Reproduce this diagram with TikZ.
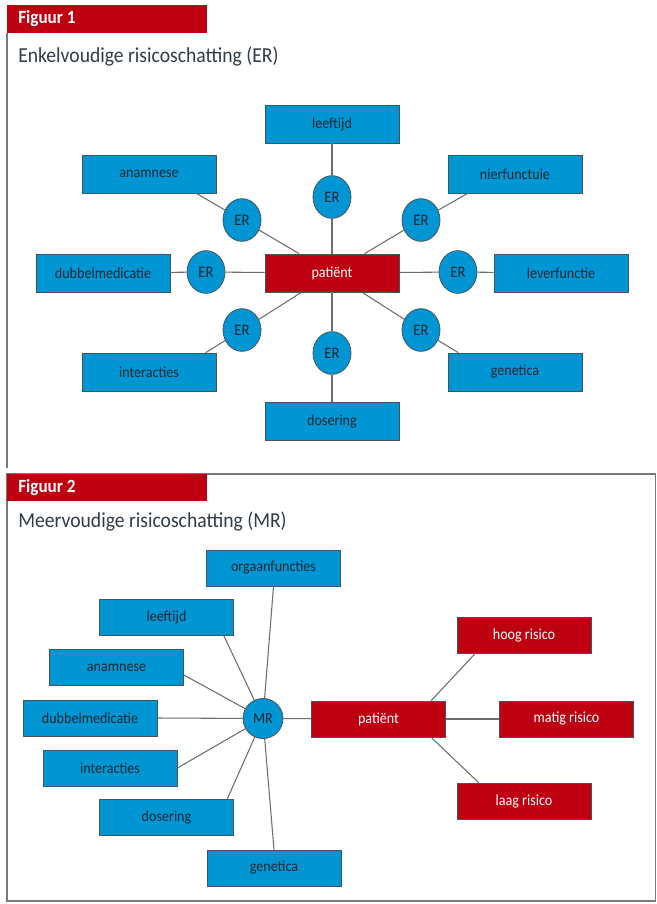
\documentclass[tikz,border=0pt]{standalone}
\usepackage{fontspec}
\setmainfont{Carlito}[FakeStretch=0.92]
\usetikzlibrary{shapes.geometric}
\definecolor{boxblue}{HTML}{0096D3}
\definecolor{boxred}{HTML}{BF0010}
\definecolor{txtdark}{HTML}{1A2633}
\definecolor{linegray}{HTML}{6E6E6E}
\definecolor{framegray}{HTML}{7A7A7A}
\begin{document}
\begin{tikzpicture}[x=0.75pt,y=-0.75pt,
  boxfont/.style={font=\fontsize{11.5}{13}\selectfont},
  bluebox/.style={draw=txtdark!80,line width=0.6pt,fill=boxblue,text=txtdark,
    minimum width=100.5pt,minimum height=28.5pt,inner sep=0pt,boxfont},
  bluebox2/.style={bluebox,minimum height=27pt},
  redbox/.style={draw=txtdark!80,line width=0.6pt,fill=boxred,text=white,
    minimum width=100.5pt,minimum height=28.5pt,inner sep=0pt,boxfont},
  redbox2/.style={redbox,minimum height=27pt},
  erbubble/.style={ellipse,draw=txtdark!80,line width=0.6pt,fill=boxblue,text=txtdark,
    minimum width=28.5pt,minimum height=32pt,inner sep=0pt,font=\fontsize{12}{14}\selectfont},
  mrbubble/.style={circle,draw=txtdark!80,line width=0.6pt,fill=boxblue,text=txtdark,
    minimum size=30pt,inner sep=0pt,font=\fontsize{11.5}{13}\selectfont},
  link/.style={draw=linegray,line width=0.8pt},
  headbar/.style={fill=boxred,draw=none},
  headtext/.style={anchor=west,text=white,inner sep=0pt,font=\fontsize{14}{16}\selectfont\bfseries},
  titletext/.style={anchor=west,text=txtdark!90,inner sep=0pt,font=\fontsize{16}{18}\selectfont}
]
\useasboundingbox[fill=white] (0,0) rectangle (657,904);

% ---------- Figuur 1 ----------
\draw[framegray,line width=1pt] (7,33) -- (7,468);
\fill[headbar] (7,5) rectangle (207,33);
\node[headtext] (h1) at (18,19) {Figuur 1};
\node[titletext] (t1) at (18,57) {Enkelvoudige risicoschatting (ER)};

\node[redbox] (pat) at (332,273) {patiënt};
\node[bluebox] (leeft) at (332,124) {leeftijd};
\node[bluebox] (anam) at (149,174) {anamnese};
\node[bluebox] (nier) at (515,174) {nierfunctuie};
\node[bluebox] (dubbel) at (103,273) {dubbelmedicatie};
\node[bluebox] (lever) at (561,273) {leverfunctie};
\node[bluebox] (inter) at (149,372) {interacties};
\node[bluebox] (gen) at (515,372) {genetica};
\node[bluebox] (dos) at (332,421) {dosering};

\node[erbubble] (ert) at (332,197) {ER};
\node[erbubble] (ertl) at (242,220) {ER};
\node[erbubble] (ertr) at (421,220) {ER};
\node[erbubble] (erl) at (206,272) {ER};
\node[erbubble] (err) at (458,272) {ER};
\node[erbubble] (erbl) at (242,330) {ER};
\node[erbubble] (erbr) at (421,330) {ER};
\node[erbubble] (erb) at (332,353) {ER};

\draw[link] (pat) -- (ert);   \draw[link] (ert) -- (leeft);
\draw[link] (pat) -- (ertl);  \draw[link] (ertl) -- ([xshift=-15pt]anam.south east);
\draw[link] (pat) -- (ertr);  \draw[link] (ertr) -- ([xshift=15pt]nier.south west);
\draw[link] (pat) -- (erl);   \draw[link] (erl) -- (dubbel);
\draw[link] (pat) -- (err);   \draw[link] (err) -- (lever);
\draw[link] (pat) -- (erbl);  \draw[link] (erbl) -- ([xshift=-8pt]inter.north east);
\draw[link] (pat) -- (erbr);  \draw[link] (erbr) -- ([xshift=8pt]gen.north west);
\draw[link] (pat) -- (erb);   \draw[link] (erb) -- (dos);

% ---------- Figuur 2 ----------
\draw[framegray,line width=1pt] (7,474) rectangle (655.5,901);
\fill[headbar] (7,474) rectangle (207,501);
\node[headtext] (h2) at (18,488) {Figuur 2};
\node[titletext] (t2) at (18,522) {Meervoudige risicoschatting (MR)};

\node[mrbubble] (mr) at (263,718.5) {MR};
\node[bluebox2] (org2) at (273.5,568) {orgaanfuncties};
\node[bluebox2] (leeft2) at (166.5,617.5) {leeftijd};
\node[bluebox2] (anam2) at (116.5,667.5) {anamnese};
\node[bluebox2] (dubbel2) at (90,718) {dubbelmedicatie};
\node[bluebox2] (inter2) at (110,768) {interacties};
\node[bluebox2] (dos2) at (166.5,817.5) {dosering};
\node[bluebox2] (gen2) at (274,868) {genetica};

\node[redbox2] (pat2) at (378.5,719) {patiënt};
\node[redbox2] (hoog) at (524,635) {hoog risico};
\node[redbox2] (matig) at (566.5,719) {matig risico};
\node[redbox2] (laag) at (524,801) {laag risico};

\draw[link] (mr) -- (org2.south);
\draw[link] (mr) -- ([xshift=-7.5pt]leeft2.south east);
\draw[link] (mr) -- ([yshift=-5.6pt]anam2.east);
\draw[link] (mr) -- (dubbel2.east);
\draw[link] (mr) -- (inter2.east);
\draw[link] (mr) -- ([xshift=-5pt]dos2.north east);
\draw[link] (mr) -- (gen2.north);
\draw[link] (mr) -- (pat2);
\draw[link] ([xshift=-11pt]pat2.north east) -- ([xshift=14pt]hoog.south west);
\draw[link] (pat2.east) -- (matig.west);
\draw[link] ([xshift=-11pt]pat2.south east) -- ([xshift=16.5pt]laag.north west);
\end{tikzpicture}
\end{document}
